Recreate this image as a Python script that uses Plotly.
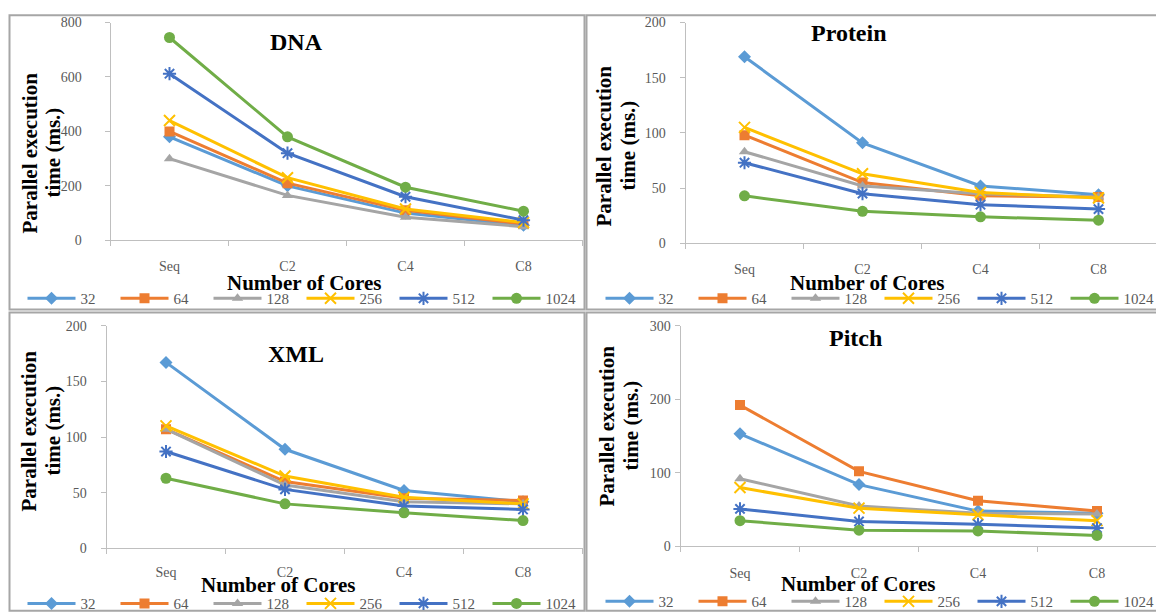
import plotly.graph_objects as go

W, H = 1164, 613
# Calibration of where figure pixels land in the photographed page (measured on earlier renders).
X_OFF = 7.5
Y_OFF, Y_SCALE = 15.5, 0.972

categories = ["Seq", "C2", "C4", "C8"]
series_names = ["32", "64", "128", "256", "512", "1024"]

dna_32 = [380, 200, 100, 55]
dna_64 = [400, 210, 110, 60]
dna_128 = [300, 165, 85, 50]
dna_256 = [440, 230, 115, 65]
dna_512 = [612, 320, 160, 74]
dna_1024 = [745, 380, 195, 107]

protein_32 = [169, 91, 52, 44]
protein_64 = [98, 55, 43, 42]
protein_128 = [83, 52, 45, 42]
protein_256 = [105, 63, 46, 41]
protein_512 = [73, 45, 35, 31]
protein_1024 = [43, 29, 24, 21]

xml_32 = [167, 89, 52, 42]
xml_64 = [107, 60, 45, 43]
xml_128 = [107, 57, 42, 40]
xml_256 = [110, 65, 46, 40]
xml_512 = [87, 53, 38, 35]
xml_1024 = [63, 40, 32, 25]

pitch_32 = [153, 84, 48, 45]
pitch_64 = [192, 102, 62, 48]
pitch_128 = [92, 55, 45, 44]
pitch_256 = [80, 52, 43, 35]
pitch_512 = [51, 34, 30, 25]
pitch_1024 = [35, 22, 21, 15]

colors = ["#5B9BD5", "#ED7D31", "#A5A5A5", "#FFC000", "#4472C4", "#70AD47"]
symbols = ["diamond", "square", "triangle-up", "x-thin", "asterisk", "circle"]
sizes = [10, 10, 10, 11, 11, 11]


def px(v):
    return min(max((v - X_OFF) / W, 0.0005), 0.9995)


def py(v):
    f = (v - Y_OFF) / Y_SCALE
    return min(max(1 - f / H, 0.0005), 0.9995)


panels = [
    dict(name="DNA", data=[dna_32, dna_64, dna_128, dna_256, dna_512, dna_1024],
         ymax=800, dtick=200, xd=[110, 582], yd=[23, 240], ystand=20, xstand=13,
         title_xy=(296, 42), ytitle_x=(29, 52), ytitle_y=153, xtitle_xy=(303, 283),
         legend_xy=(22, 298)),
    dict(name="Protein", data=[protein_32, protein_64, protein_128, protein_256, protein_512, protein_1024],
         ymax=200, dtick=50, xd=[685, 1157], yd=[23, 243], ystand=11, xstand=13,
         title_xy=(848, 33), ytitle_x=(603, 627), ytitle_y=146, xtitle_xy=(866, 283),
         legend_xy=(600, 298)),
    dict(name="XML", data=[xml_32, xml_64, xml_128, xml_256, xml_512, xml_1024],
         ymax=200, dtick=50, xd=[106, 582], yd=[325, 547], ystand=11, xstand=11,
         title_xy=(295, 353), ytitle_x=(29, 53), ytitle_y=430, xtitle_xy=(277, 583),
         legend_xy=(22, 602)),
    dict(name="Pitch", data=[pitch_32, pitch_64, pitch_128, pitch_256, pitch_512, pitch_1024],
         ymax=300, dtick=100, xd=[680, 1156], yd=[325, 545], ystand=1, xstand=14,
         title_xy=(855, 337), ytitle_x=(606, 630), ytitle_y=425, xtitle_xy=(857, 582),
         legend_xy=(600, 600)),
]

SERIF = "Liberation Serif"
AXIS_COLOR = "#BFBFBF"
TICK_COLOR = "#595959"

fig = go.Figure()
layout = dict(width=W, height=H, margin=dict(l=0, r=0, t=0, b=0),
              paper_bgcolor="white", plot_bgcolor="white", showlegend=True)
annotations = []
shapes = []

for i, p in enumerate(panels):
    k = "" if i == 0 else str(i + 1)
    legend_name = "legend" if i == 0 else f"legend{i + 1}"
    for j, name in enumerate(series_names):
        fig.add_trace(go.Scatter(
            x=categories, y=p["data"][j], name=name, mode="lines+markers",
            xaxis="x" + k, yaxis="y" + k, legend=legend_name,
            line=dict(color=colors[j], width=3),
            marker=dict(symbol=symbols[j], size=sizes[j], color=colors[j],
                        line=dict(color=colors[j], width=2 if symbols[j] in ("x-thin", "asterisk") else 0)),
        ))
    layout["xaxis" + k] = dict(
        domain=[px(p["xd"][0]), px(p["xd"][1])], anchor="y" + k, type="category",
        range=[-0.5, 3.5], tickson="boundaries", ticks="outside", ticklen=5,
        tickcolor=AXIS_COLOR, showline=True, linecolor=AXIS_COLOR, linewidth=1,
        showgrid=False, zeroline=False, ticklabelstandoff=p["xstand"],
        tickfont=dict(family=SERIF, size=14, color=TICK_COLOR),
    )
    layout["yaxis" + k] = dict(
        domain=[py(p["yd"][1]), py(p["yd"][0])], anchor="x" + k,
        range=[0, p["ymax"]], dtick=p["dtick"], ticks="outside", ticklen=5,
        tickcolor=AXIS_COLOR, showline=True, linecolor=AXIS_COLOR, linewidth=1,
        showgrid=False, zeroline=False, ticklabelstandoff=p["ystand"],
        tickfont=dict(family=SERIF, size=14, color=TICK_COLOR),
    )
    layout[legend_name] = dict(
        orientation="h", x=px(p["legend_xy"][0]), y=py(p["legend_xy"][1]),
        xanchor="left", yanchor="middle", bgcolor="rgba(0,0,0,0)",
        font=dict(family=SERIF, size=15, color=TICK_COLOR),
        itemwidth=48, entrywidth=30, entrywidthmode="pixels",
        tracegroupgap=0, itemclick=False,
    )
    annotations.append(dict(
        text=f"<b>{p['name']}</b>", x=px(p["title_xy"][0]), y=py(p["title_xy"][1]),
        xref="paper", yref="paper", showarrow=False, xanchor="center", yanchor="middle",
        font=dict(family=SERIF, size=24, color="black")))
    annotations.append(dict(
        text="<b>Number of Cores</b>", x=px(p["xtitle_xy"][0]), y=py(p["xtitle_xy"][1]),
        xref="paper", yref="paper", showarrow=False, xanchor="center", yanchor="middle",
        font=dict(family=SERIF, size=21, color="black")))
    for line_text, lx in zip(["Parallel execution", "time (ms.)"], p["ytitle_x"]):
        annotations.append(dict(
            text=f"<b>{line_text}</b>", x=px(lx), y=py(p["ytitle_y"]),
            xref="paper", yref="paper", showarrow=False, textangle=-90,
            xanchor="center", yanchor="middle",
            font=dict(family=SERIF, size=21, color="black")))

for (x0, y0, x1, y1) in [(9, 12, 584, 309), (586, 12, 1161, 309),
                         (9, 312, 584, 609), (586, 312, 1161, 609)]:
    shapes.append(dict(type="rect", xref="paper", yref="paper",
                       x0=px(x0), x1=px(x1), y0=py(y1), y1=py(y0),
                       line=dict(color="#A6A6A6", width=2), layer="below"))

layout["annotations"] = annotations
layout["shapes"] = shapes
fig.update_layout(**layout)
fig.write_html("out.html")
